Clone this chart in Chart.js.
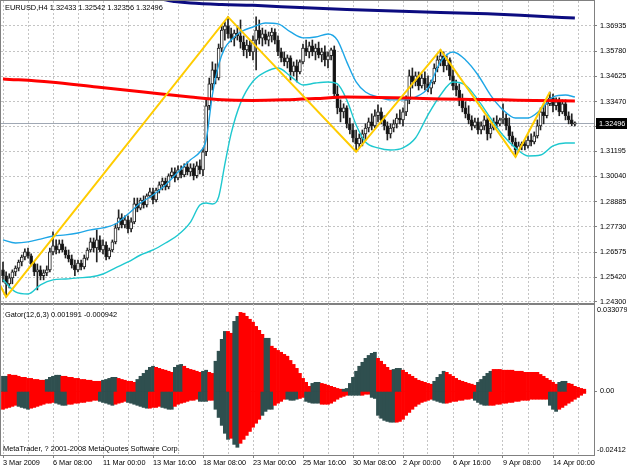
<!DOCTYPE html>
<html><head><meta charset="utf-8">
<script src="https://cdn.jsdelivr.net/npm/chart.js@4"></script>
<style>
html,body{margin:0;padding:0;background:#fff;}
#wrap{position:relative;width:627px;height:470px;overflow:hidden;background:#fff;}
canvas{position:absolute;left:0;}
#c1{top:0}
#c2{top:300px}
.lbl{position:absolute;font-size:7.4px;font-family:"Liberation Sans",Arial,sans-serif;color:#000;white-space:nowrap;line-height:10px;}
</style></head><body>
<div id="wrap">
<canvas id="c1" width="627" height="312"></canvas>
<canvas id="c2" width="627" height="170"></canvas>
<div class="lbl" style="left:5px;top:3px">EURUSD,H4 1.32433 1.32542 1.32356 1.32496</div>
<div class="lbl" style="left:5px;top:310px">Gator(12,6,3) 0.001991 -0.000942</div>
<div class="lbl" style="left:3px;top:444px">MetaTrader, ? 2001-2008 MetaQuotes Software Corp.</div>
</div>
<script>
// ---------------- DATA ----------------
const xLabels = ['3 Mar 2009','6 Mar 08:00','11 Mar 00:00','13 Mar 16:00','18 Mar 08:00','23 Mar 00:00','25 Mar 16:00','30 Mar 08:00','2 Apr 00:00','6 Apr 16:00','9 Apr 08:00','14 Apr 00:00'];
const xLabelBars = [0,16,32,48,64,80,96,112,128,144,160,176];
const xGridBars = [0,8,16,24,32,40,48,56,64,72,80,88,96,104,112,120,128,136,144,152,160,168,176,184];
const priceTicks = [1.36935,1.35780,1.34625,1.33470,1.32315,1.31195,1.30040,1.28885,1.27730,1.26575,1.25420,1.24300];
const gatorAxisValues = [0.033079, 0, -0.02412];
const gatorAxisLabels = ['0.033079','0.00','-0.02412'];

const open = [
1.2576,1.2549,1.2512,1.2539,1.2567,1.2584,1.2612,1.2635,1.2658,1.2640,
1.2603,1.2567,1.2576,1.2549,1.2562,1.2576,1.2658,1.2686,1.2667,1.2695,
1.2667,1.2644,1.2626,1.2598,1.2576,1.2607,1.2589,1.2630,1.2667,1.2704,
1.2676,1.2713,1.2667,1.2690,1.2635,1.2667,1.2704,1.2768,1.2814,1.2782,
1.2805,1.2764,1.2796,1.2878,1.2859,1.2896,1.2873,1.2915,1.2933,1.2896,
1.2942,1.2965,1.2983,1.2956,1.3007,1.3025,1.2997,1.3034,1.3011,1.3048,
1.3025,1.3043,1.3007,1.3053,1.3034,1.3117,1.3328,1.3428,1.3492,1.3455,
1.3592,1.3675,1.3694,1.3657,1.3638,1.3661,1.3648,1.3620,1.3584,1.3606,
1.3575,1.3629,1.3675,1.3638,1.3657,1.3629,1.3648,1.3666,1.3629,1.3575,
1.3547,1.3529,1.3547,1.3483,1.3511,1.3483,1.3529,1.3592,1.3575,1.3602,
1.3575,1.3592,1.3561,1.3575,1.3538,1.3557,1.3584,1.3382,1.3318,1.3300,
1.3318,1.3245,1.3217,1.3180,1.3153,1.3180,1.3199,1.3226,1.3254,1.3236,
1.3282,1.3300,1.3263,1.3236,1.3199,1.3226,1.3245,1.3272,1.3263,1.3300,
1.3355,1.3465,1.3437,1.3465,1.3419,1.3455,1.3428,1.3409,1.3437,1.3501,
1.3538,1.3557,1.3511,1.3538,1.3465,1.3419,1.3400,1.3355,1.3318,1.3291,
1.3263,1.3236,1.3254,1.3217,1.3236,1.3263,1.3199,1.3226,1.3254,1.3245,
1.3263,1.3272,1.3236,1.3190,1.3162,1.3126,1.3144,1.3153,1.3144,1.3171,
1.3162,1.3190,1.3236,1.3300,1.3282,1.3337,1.3364,1.3328,1.3346,1.3300,
1.3337,1.3282,1.3263,1.32433];
const high = [
1.2612,1.2567,1.2558,1.2576,1.2594,1.2621,1.2644,1.2672,1.2676,1.2649,
1.2612,1.2603,1.2594,1.2576,1.2594,1.2676,1.2750,1.2713,1.2713,1.2713,
1.2681,1.2667,1.2644,1.2621,1.2621,1.2621,1.2644,1.2676,1.2722,1.2722,
1.2759,1.2732,1.2713,1.2704,1.2676,1.2713,1.2787,1.2851,1.2833,1.2824,
1.2824,1.2814,1.2905,1.2905,1.2905,1.2915,1.2924,1.2951,1.2951,1.2951,
1.2979,1.2997,1.2997,1.3016,1.3043,1.3043,1.3053,1.3053,1.3062,1.3071,
1.3062,1.3062,1.3071,1.3080,1.3134,1.3355,1.3455,1.3529,1.3520,1.3611,
1.3694,1.3712,1.3735,1.3684,1.3675,1.3694,1.3721,1.3648,1.3629,1.3629,
1.3648,1.3735,1.3721,1.3684,1.3675,1.3666,1.3684,1.3680,1.3648,1.3592,
1.3575,1.3561,1.3557,1.3529,1.3538,1.3538,1.3611,1.3629,1.3620,1.3629,
1.3611,1.3620,1.3592,1.3602,1.3575,1.3592,1.3602,1.3419,1.3355,1.3337,
1.3328,1.3272,1.3245,1.3217,1.3199,1.3217,1.3245,1.3272,1.3291,1.3309,
1.3332,1.3318,1.3282,1.3254,1.3245,1.3263,1.3291,1.3309,1.3318,1.3373,
1.3492,1.3501,1.3483,1.3483,1.3474,1.3483,1.3465,1.3446,1.3520,1.3557,
1.3584,1.3575,1.3557,1.3547,1.3492,1.3446,1.3428,1.3382,1.3346,1.3328,
1.3282,1.3272,1.3272,1.3254,1.3282,1.3282,1.3245,1.3272,1.3282,1.3272,
1.3337,1.3291,1.3272,1.3208,1.3180,1.3162,1.3162,1.3171,1.3190,1.3199,
1.3208,1.3263,1.3318,1.3337,1.3355,1.3391,1.3382,1.3364,1.3364,1.3355,
1.3355,1.3300,1.3291,1.32542];
const low = [
1.2521,1.2452,1.2493,1.2512,1.2549,1.2571,1.2594,1.2621,1.2630,1.2594,
1.2549,1.2484,1.2530,1.2530,1.2549,1.2567,1.2644,1.2649,1.2653,1.2658,
1.2630,1.2612,1.2584,1.2549,1.2567,1.2576,1.2580,1.2621,1.2658,1.2658,
1.2612,1.2658,1.2649,1.2621,1.2626,1.2658,1.2695,1.2759,1.2768,1.2768,
1.2745,1.2750,1.2787,1.2842,1.2851,1.2859,1.2864,1.2905,1.2878,1.2887,
1.2928,1.2942,1.2942,1.2947,1.2997,1.2979,1.2988,1.2997,1.3002,1.3011,
1.3007,1.2988,1.2997,1.3016,1.3007,1.3099,1.3309,1.3400,1.3428,1.3446,
1.3575,1.3629,1.3638,1.3620,1.3602,1.3629,1.3592,1.3557,1.3547,1.3557,
1.3538,1.3492,1.3611,1.3602,1.3611,1.3602,1.3620,1.3611,1.3557,1.3529,
1.3511,1.3501,1.3446,1.3465,1.3437,1.3474,1.3520,1.3557,1.3547,1.3557,
1.3538,1.3547,1.3529,1.3511,1.3501,1.3538,1.3363,1.3291,1.3254,1.3272,
1.3226,1.3199,1.3162,1.3117,1.3134,1.3144,1.3171,1.3208,1.3217,1.3226,
1.3254,1.3245,1.3217,1.3171,1.3180,1.3208,1.3226,1.3245,1.3236,1.3282,
1.3337,1.3409,1.3419,1.3400,1.3409,1.3400,1.3391,1.3382,1.3428,1.3483,
1.3511,1.3483,1.3492,1.3446,1.3400,1.3373,1.3328,1.3300,1.3272,1.3245,
1.3217,1.3226,1.3199,1.3199,1.3217,1.3171,1.3180,1.3217,1.3226,1.3236,
1.3245,1.3217,1.3171,1.3144,1.3094,1.3117,1.3126,1.3126,1.3134,1.3144,
1.3153,1.3180,1.3217,1.3245,1.3272,1.3328,1.3300,1.3309,1.3282,1.3291,
1.3263,1.3245,1.3236,1.32356];
const close = [
1.2549,1.2512,1.2539,1.2567,1.2584,1.2612,1.2635,1.2658,1.2640,1.2603,
1.2567,1.2576,1.2549,1.2562,1.2576,1.2658,1.2686,1.2667,1.2695,1.2667,
1.2644,1.2626,1.2598,1.2576,1.2607,1.2589,1.2630,1.2667,1.2704,1.2676,
1.2713,1.2667,1.2690,1.2635,1.2667,1.2704,1.2768,1.2814,1.2782,1.2805,
1.2764,1.2796,1.2878,1.2859,1.2896,1.2873,1.2915,1.2933,1.2896,1.2942,
1.2965,1.2983,1.2956,1.3007,1.3025,1.2997,1.3034,1.3011,1.3048,1.3025,
1.3043,1.3007,1.3053,1.3034,1.3117,1.3328,1.3428,1.3492,1.3455,1.3592,
1.3675,1.3694,1.3657,1.3638,1.3661,1.3648,1.3620,1.3584,1.3606,1.3575,
1.3629,1.3675,1.3638,1.3657,1.3629,1.3648,1.3666,1.3629,1.3575,1.3547,
1.3529,1.3547,1.3483,1.3511,1.3483,1.3529,1.3592,1.3575,1.3602,1.3575,
1.3592,1.3561,1.3575,1.3538,1.3557,1.3584,1.3382,1.3318,1.3300,1.3318,
1.3245,1.3217,1.3180,1.3153,1.3180,1.3199,1.3226,1.3254,1.3236,1.3282,
1.3300,1.3263,1.3236,1.3199,1.3226,1.3245,1.3272,1.3263,1.3300,1.3355,
1.3465,1.3437,1.3465,1.3419,1.3455,1.3428,1.3409,1.3437,1.3501,1.3538,
1.3557,1.3511,1.3538,1.3465,1.3419,1.3400,1.3355,1.3318,1.3291,1.3263,
1.3236,1.3254,1.3217,1.3236,1.3263,1.3199,1.3226,1.3254,1.3245,1.3263,
1.3272,1.3236,1.3190,1.3162,1.3126,1.3144,1.3153,1.3144,1.3171,1.3162,
1.3190,1.3236,1.3300,1.3282,1.3337,1.3364,1.3328,1.3346,1.3300,1.3337,
1.3282,1.3263,1.3245,1.32496];

// Bollinger bands, read at sample bars
const bbBars = [0,4,8,12,16,20,24,28,32,36,40,44,48,52,56,60,63,65,67,69,71,73,76,80,84,88,92,96,100,104,107,110,113,116,120,124,128,132,136,140,144,148,152,156,160,164,168,172,176,180,183];
const bbUpper = [1.2713,1.2699,1.2704,1.2717,1.2731,1.2736,1.2745,1.2759,1.2768,1.2786,
1.2832,1.2882,1.2919,1.2965,1.3024,1.3080,1.3116,1.3171,1.3377,1.3515,
1.3593,1.3629,1.3666,1.3689,1.3707,1.3703,1.3666,1.3639,1.3643,1.3657,
1.3629,1.3529,1.3437,1.3391,1.3368,1.3355,1.3355,1.3368,1.3409,1.3529,
1.3574,1.3538,1.3469,1.3377,1.3309,1.3272,1.3272,1.3309,1.3368,1.3377,1.3368];
const bbLower = [1.2530,1.2475,1.2465,1.2507,1.2530,1.2534,1.2539,1.2543,1.2557,1.2585,
1.2612,1.2644,1.2667,1.2699,1.2736,1.2795,1.2873,1.2882,1.2878,1.2910,
1.3060,1.3200,1.3340,1.3440,1.3483,1.3501,1.3464,1.3423,1.3432,1.3437,
1.3428,1.3355,1.3240,1.3162,1.3135,1.3125,1.3135,1.3180,1.3286,1.3377,
1.3437,1.3423,1.3355,1.3272,1.3193,1.3135,1.3098,1.3102,1.3144,1.3157,1.3157];
// long moving averages
const maRedBars = [0,15,30,45,60,70,80,90,100,110,120,130,140,150,160,170,183];
const maRed = [1.3451,1.3437,1.3414,1.3391,1.3368,1.3355,1.3352,1.3355,1.3361,1.3368,1.3366,1.3363,1.3359,1.3357,1.3355,1.3352,1.3350];
const maBlueBars = [45,52,55,60,70,80,95,110,125,140,155,170,183];
const maBlue = [1.3859,1.3813,1.3806,1.3799,1.3792,1.3788,1.3778,1.3769,1.3762,1.3755,1.3749,1.3739,1.3730];
// ZigZag vertices
const zzBars = [-2,1,72,113,140,164,175];
const zzVals = [1.2535,1.2452,1.3735,1.3117,1.3584,1.3094,1.3391];

// Gator oscillator (bars 0..186); colour code 1 = dark, 0 = red
const gatorUp = [
.0057,.0057, .0064,.0061,.0061,.0057,.0053,.0053,.0049, .0049,.0045,.0045,.0042,.0042,
.0045,.0053,.0057,.0061,.0061,
.0057,.0057,.0053,.0053,.0049,.0049,.0045,.0045,.0042,.0042,.0038,.0038,.0038,
.0042,.0045,.0049,.0053,.0053,
.0049,.0045,.0042,.0038,.0038,.0034,
.0045,.0057,.0068,.0080,.0091,.0095,
.0091,.0087,.0083,.0080,.0076,.0072,
.0091,.0099,.0102,
.0095,.0087,.0083,.0080,.0076,.0072,
.0076,.0080, .0072,.0068,
.0114,.0152,.0197,.0227, .0227,.0220, .0265,.0284,
.0299,.0296,.0284,.0273,.0262,.0246,.0231,.0216,
.0201,.0201,
.0171,.0163,.0155,.0148,.0140,.0133,
.0117,.0102,.0087,.0068,.0049,.0034,.0019,
.0030,.0034,.0034,
.0030,.0027,.0023,.0019,.0015,.0011,.0008,
.0008,.0011,
.0030,.0053,.0076,.0095,.0110,.0125,.0136,.0144,.0148,
.0125,.0114,.0102,.0091,.0080,
.0083,.0087,.0087,
.0080,.0072,.0064,.0057,.0049,.0042,.0038,.0034,.0030,.0027,
.0038,.0053,.0064,.0076,
.0072,.0064,.0057,.0049,.0042,.0038,.0034,.0030,.0027,.0023,
.0034,.0045,.0057,.0068,.0076,
.0083,.0083,.0083,.0080,.0080,.0080,.0080,.0076,.0076,.0076,.0072,.0072,.0072,.0072,
.0072,.0064,.0057,.0049,.0042,.0034,.0027,
.0034,.0038,.0038,
.0030,.0027,.0019,.0015,.0011,.0008];
const gatorUpColor =
'11'+'000000000000'+'11111'+'0000000000000'+'11111'+'000000'+'111111'+'000000'+'111'+'000000'+
'11'+'00'+'1111'+'00'+'11'+'00000000'+'11'+'0000000000000'+'111'+'0000000'+'11111111111'+
'00000'+'111'+'0000000000'+'1111'+'0000000000'+'11111'+'000000000000000000000'+'111'+'000000';
const gatorDown = [
-.0068,-.0064,-.0061,-.0057,-.0053,
-.0057,-.0061,-.0064,-.0068,
-.0064,-.0061,-.0057,-.0053,-.0049,-.0045,-.0045,-.0042,
-.0045,-.0049,-.0053,-.0053,
-.0049,-.0049,-.0045,-.0045,-.0042,-.0042,-.0038,-.0038,-.0034,-.0034,
-.0038,-.0042,-.0045,-.0049,-.0053,
-.0049,-.0045,-.0042,-.0038,
-.0042,-.0045,-.0049,-.0053,-.0057,-.0061,-.0064,
-.0064,-.0061,-.0061,-.0057,
-.0061,-.0064,-.0068,-.0068,
-.0057,-.0049,-.0045,-.0042,-.0038,-.0034,-.0034,-.0030,
-.0038,-.0038,-.0038,
-.0034,-.0034,
-.0068,-.0099,-.0129,-.0159,-.0182,
-.0178,
-.0201,-.0212,
-.0197,-.0182,-.0167,-.0152,-.0136,-.0121,-.0106,
-.0091,-.0076,-.0068,-.0068,
-.0053,-.0045,-.0038,-.0030,
-.0030,-.0034,-.0034,-.0030,
-.0027,-.0023,
-.0038,-.0042,-.0045,-.0045,-.0045,
-.0049,-.0049,-.0049,-.0045,-.0038,-.0030,-.0023,-.0019,-.0015,
-.0015,-.0015,-.0015,-.0015,
-.0015,-.0011,-.0011,
-.0023,-.0027,-.0091,-.0102,-.0110,-.0114,-.0117,-.0117,
-.0117,-.0114,-.0106,-.0091,-.0080,-.0068,-.0057,-.0049,-.0042,-.0038,-.0034,-.0030,
-.0034,-.0038,-.0042,-.0045,
-.0045,-.0042,-.0038,-.0038,-.0034,-.0034,-.0030,-.0030,-.0027,
-.0034,-.0042,-.0049,-.0053,-.0053,
-.0053,-.0053,-.0049,-.0049,-.0045,-.0045,-.0042,-.0042,-.0038,-.0038,-.0034,-.0034,-.0034,-.0030,-.0030,-.0030,-.0030,-.0030,-.0030,
-.0053,-.0068,-.0076,
-.0068,-.0061,-.0053,-.0045,-.0038,-.0030,-.0023,-.0015,-.0008];
const gatorDownColor =
'00000'+'1111'+'00000000'+'1111'+'0000000000'+'11111'+'0000'+'1111111'+'0000'+'1111'+
'00000000'+'111'+'00'+'11111'+'0'+'11'+'0000000'+'1111'+'0000'+'1111'+'00'+'11111'+
'000000000'+'1111'+'000'+'11111111'+'000000000000'+'1111'+'000000000'+'11111'+
'0000000000000000000'+'111'+'000000000';

// ---------------- RENDER ----------------
const FONT = '"Liberation Sans",Arial,sans-serif';
const FS = 7.3;
Chart.defaults.font.family = FONT;
Chart.defaults.font.size = FS;
Chart.defaults.color = '#000';
const X_MIN = -0.64, X_MAX = 189.12;
const GRID = '#c4c4c4', FRAME = '#808080';
const RED = '#ff0000', DARK = '#2f4f4f';

const xy = (bars, vals) => bars.map((b, i) => ({x: b, y: vals[i]}));
const idx = open.map((_, i) => i);
const noPad = s => { s.paddingTop = 0; s.paddingBottom = 0; s.paddingLeft = 0; s.paddingRight = 0; };

const frame = {
  id: 'frame',
  afterDraw(c, args, o) {
    const {ctx, chartArea: a} = c;
    ctx.save();
    ctx.strokeStyle = FRAME; ctx.lineWidth = 1;
    ctx.strokeRect(a.left - 0.5, a.top - 0.5, a.right - a.left + 1, a.bottom - a.top + 1);
    if (o.thickBottom) { ctx.lineWidth = 2; ctx.beginPath(); ctx.moveTo(a.left - 1, a.bottom + 1); ctx.lineTo(a.right + 1, a.bottom + 1); ctx.stroke(); }
    ctx.restore();
  }
};
const priceMark = {
  id: 'priceMark',
  afterDraw(c) {
    const {ctx} = c, s = c.scales.y;
    const last = close[close.length - 1];
    const y = Math.round(s.getPixelForValue(last));
    ctx.save();
    ctx.fillStyle = '#000';
    ctx.fillRect(596, y - 5, 31, 11);
    ctx.fillStyle = '#fff';
    ctx.font = FS + 'px ' + FONT; ctx.textBaseline = 'middle'; ctx.textAlign = 'left';
    ctx.fillText(last.toFixed(5), 599, y + 0.5);
    ctx.restore();
  },
  beforeDatasetsDraw(c) {
    const {ctx, chartArea: a} = c, s = c.scales.y;
    const y = Math.round(s.getPixelForValue(close[close.length - 1])) + 0.5;
    ctx.save(); ctx.strokeStyle = '#a0a8b4'; ctx.lineWidth = 1;
    ctx.beginPath(); ctx.moveTo(a.left, y); ctx.lineTo(a.right, y); ctx.stroke(); ctx.restore();
  }
};
const gatorAxis = {
  id: 'gatorAxis',
  afterDraw(c) {
    const {ctx, chartArea: a} = c, s = c.scales.y;
    ctx.save();
    ctx.font = FS + 'px ' + FONT; ctx.fillStyle = '#000'; ctx.textAlign = 'left';
    ctx.strokeStyle = FRAME;
    gatorAxisValues.forEach((v, i) => {
      const y = s.getPixelForValue(v);
      ctx.textBaseline = i === 0 ? 'top' : (i === 1 ? 'middle' : 'bottom');
      ctx.fillText(gatorAxisLabels[i], a.right + (i === 1 ? 6 : 3), i === 0 ? y + 2 : (i === 1 ? y : y - 1));
      if (i === 1) { ctx.beginPath(); ctx.moveTo(a.right, Math.round(y) + 0.5); ctx.lineTo(a.right + 3, Math.round(y) + 0.5); ctx.stroke(); }
    });
    ctx.restore();
  }
};

const xScaleBase = {
  type: 'linear', min: X_MIN, max: X_MAX, offset: false,
  afterBuildTicks: s => { s.ticks = xGridBars.map(v => ({value: v})); },
  border: { display: false, dash: [2, 2] }
};

new Chart(document.getElementById('c1'), {
  type: 'line',
  data: {
    datasets: [
      { type: 'line', data: xy(zzBars, zzVals), borderColor: '#ffcc00', borderWidth: 2, pointRadius: 0, tension: 0, order: 1 },
      { type: 'line', data: xy(maBlueBars, maBlue), borderColor: '#0c0c80', borderWidth: 3, pointRadius: 0, cubicInterpolationMode: 'monotone', order: 2 },
      { type: 'line', data: xy(maRedBars, maRed), borderColor: '#ff0000', borderWidth: 3, pointRadius: 0, cubicInterpolationMode: 'monotone', order: 2 },
      { type: 'line', data: xy(bbBars, bbUpper), borderColor: '#1ea6e6', borderWidth: 1.4, pointRadius: 0, cubicInterpolationMode: 'monotone', order: 3 },
      { type: 'line', data: xy(bbBars, bbLower), borderColor: '#1ec8cf', borderWidth: 1.4, pointRadius: 0, cubicInterpolationMode: 'monotone', order: 3 },
      { type: 'bar', data: idx.map(i => ({x: i, y: [open[i], close[i]]})), grouped: false, barThickness: 3,
        backgroundColor: ctx => close[ctx.dataIndex] >= open[ctx.dataIndex] ? '#ffffff' : '#111111',
        borderColor: '#222', borderWidth: 1, borderSkipped: false, order: 8 },
      { type: 'bar', data: idx.map(i => ({x: i, y: [low[i], high[i]]})), grouped: false, barThickness: 1,
        backgroundColor: '#222', borderWidth: 0, order: 9 }
    ]
  },
  options: {
    responsive: false, animation: false, devicePixelRatio: 1,
    layout: { padding: { left: 1, top: 1, right: 0, bottom: 9 }, autoPadding: false },
    plugins: { legend: { display: false }, tooltip: { enabled: false }, frame: { thickBottom: true } },
    scales: {
      x: Object.assign({}, xScaleBase, {
        position: 'bottom', ticks: { display: false },
        grid: { color: GRID, offset: false, drawTicks: false },
        afterFit: s => { s.height = 0; noPad(s); }
      }),
      y: {
        type: 'linear', position: 'right', min: 1.2424, max: 1.3808,
        afterBuildTicks: s => { s.ticks = priceTicks.map(v => ({value: v})); },
        afterFit: s => { s.width = 33; noPad(s); },
        ticks: { callback: v => v.toFixed(5), padding: 3, autoSkip: false, font: { size: FS } },
        grid: { color: GRID, tickLength: 3, tickColor: FRAME, tickBorderDash: [] },
        border: { display: false, dash: [2, 2] }
      }
    }
  },
  plugins: [frame, priceMark]
});

new Chart(document.getElementById('c2'), {
  type: 'bar',
  data: {
    datasets: [
      { data: gatorUp.map((v, i) => ({x: i, y: v})), grouped: false, barPercentage: 1, categoryPercentage: 1,
        backgroundColor: gatorUp.map((v, i) => gatorUpColor[i] === '1' ? DARK : RED), borderWidth: 0 },
      { data: gatorDown.map((v, i) => ({x: i, y: v})), grouped: false, barPercentage: 1, categoryPercentage: 1,
        backgroundColor: gatorDown.map((v, i) => gatorDownColor[i] === '1' ? DARK : RED), borderWidth: 0 }
    ]
  },
  options: {
    responsive: false, animation: false, devicePixelRatio: 1,
    layout: { padding: { left: 1, top: 4, right: 0, bottom: 0 }, autoPadding: false },
    plugins: { legend: { display: false }, tooltip: { enabled: false } },
    scales: {
      x: Object.assign({}, xScaleBase, {
        position: 'bottom',
        ticks: { align: 'start', maxRotation: 0, autoSkip: false, padding: 1, font: { size: FS },
          callback: v => { const k = xLabelBars.indexOf(v); return k >= 0 ? xLabels[k] : ''; } },
        grid: { color: GRID, offset: false, tickLength: 3, tickBorderDash: [],
          tickColor: ctx => (ctx.tick && xLabelBars.indexOf(ctx.tick.value) >= 0) ? FRAME : 'rgba(0,0,0,0)' },
        afterFit: s => { s.height = 15; noPad(s); }
      }),
      y: {
        type: 'linear', position: 'right', min: -0.02412, max: 0.033079,
        afterFit: s => { s.width = 33; noPad(s); },
        ticks: { display: false }, grid: { display: false }, border: { display: false }
      }
    }
  },
  plugins: [frame, gatorAxis]
});
</script>
</body></html>
